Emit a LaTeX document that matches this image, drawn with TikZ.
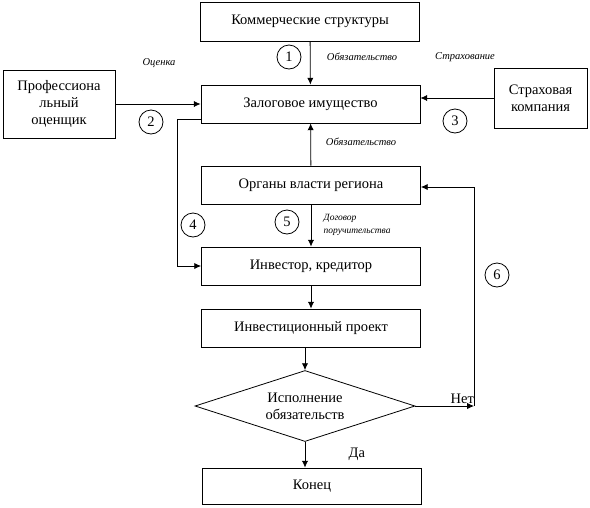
\documentclass[tikz,border=0pt]{standalone}
\usepackage{fontspec}
\setmainfont{Liberation Serif}
\usetikzlibrary{positioning,arrows.meta,shapes.geometric}

\begin{document}
\begin{tikzpicture}[
  x=1pt, y=-1pt, line width=0.8pt,
  every node/.style={font=\fontsize{14.5}{17}\selectfont, align=center},
  box/.style={draw, inner sep=0pt, minimum width=219pt, minimum height=38pt},
  num/.style={draw, circle, inner sep=0pt, minimum size=24pt},
  lbl/.style={font=\fontsize{10.5}{12}\selectfont\itshape, align=left},
  arr/.style={-{Latex[length=2.4mm,width=2.2mm]}}
]
\useasboundingbox (0,0) rectangle (590,507);

\node[box, minimum height=39pt] (comm) at (310,21.5) {Коммерческие структуры};
\node[box] (zalog) at (310.5,104) {Залоговое имущество};
\node[box, minimum width=112pt, minimum height=68pt] (ocen) at (59,104) {Профессиона\\льный\\оценщик};
\node[box, minimum width=93pt, minimum height=60pt] (strah) at (540.5,98) {Страховая\\компания};
\node[box] (organy) at (311,185) {Органы власти региона};
\node[box] (invest) at (311,266) {Инвестор, кредитор};
\node[box] (proekt) at (311,328) {Инвестиционный проект};
\node[draw, diamond, aspect=3, inner sep=0pt, minimum width=220pt, minimum height=71pt] (dec) at (305,406) {Исполнение\\обязательств};
\node[box, minimum height=36pt] (konec) at (312,486) {Конец};
\coordinate (ret) at (474,406);

% numbers
\node[num] (n1) at (289,57) {1};
\node[num] (n2) at (151,122) {2};
\node[num] (n3) at (455,121) {3};
\node[num] (n4) at (193,225) {4};
\node[num] (n5) at (287,222) {5};
\node[num] (n6) at (497,275) {6};

% labels
\node[lbl] (l1) at (362,57) {Обязательство};
\node[lbl] (l2) at (159,63) {Оценка};
\node[lbl] (l3) at (465,57) {Страхование};
\node[lbl] (l4) at (361,142) {Обязательство};
\node[lbl, anchor=west, font=\fontsize{9.5}{13}\selectfont\itshape] (l5) at (320,225) {Договор\\поручительства};

\draw[arr] (comm) -- (zalog);
\draw[arr] (ocen.east) -- (zalog.west);
\draw[arr] (strah.west) -- (strah.west -| zalog.east);
\draw[arr] (organy) -- (zalog);
\draw[arr] ([yshift=4pt]zalog.south west) -- ++(-23,0) |- (invest.west);
\draw[arr] (organy) -- (invest);
\draw[arr] (invest) -- (proekt);
\draw[arr] (proekt.south -| dec.north) -- (dec.north);
\draw[arr] (dec.south) -- node[right=40pt]{Да} (dec.south |- konec.north);
\draw[arr] (dec.east) -- node[pos=0.8, above=-1pt]{Нет} (ret);
\draw[arr] (ret) |- ([yshift=-2pt]organy.east);
\end{tikzpicture}
\end{document}
